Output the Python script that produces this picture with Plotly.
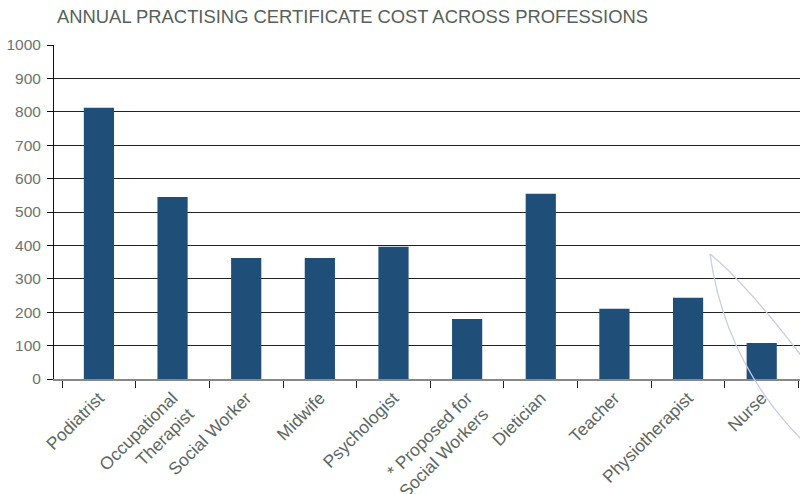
import plotly.graph_objects as go

categories = ["Podiatrist", "Occupational<br>Therapist", "Social Worker", "Midwife",
              "Psychologist", "* Proposed for<br>Social Workers", "Dietician", "Teacher",
              "Physiotherapist", "Nurse"]
costs = [812, 545, 362, 362, 396, 180, 555, 210, 243, 108]
y_ticks = [0, 100, 200, 300, 400, 500, 600, 700, 800, 900, 1000]

BAR = "#1f4e79"
TXT = "#5d6763"
FONT = "Liberation Sans, Arial, sans-serif"

W, H = 800, 494
L, R, T, B = 54, 0, 45, 115
pw, ph = W - L - R, H - T - B


def px(x, y):
    return (x - L) / pw, (H - B - y) / ph


def path(pts):
    (x0, y0), (cx, cy), (x1, y1) = [px(*p) for p in pts]
    return f"M {x0},{y0} Q {cx},{cy} {x1},{y1}"


fig = go.Figure(go.Bar(x=categories, y=costs, marker=dict(color=BAR, line=dict(width=0)),
                       width=0.41))

fig.update_layout(
    width=W, height=H,
    margin=dict(l=L, r=R, t=T, b=B),
    paper_bgcolor="white", plot_bgcolor="white",
    showlegend=False,
    title=dict(text="ANNUAL PRACTISING CERTIFICATE COST ACROSS PROFESSIONS",
               x=57 / W, xanchor="left", y=1 - 17 / H, yanchor="middle",
               font=dict(family=FONT, size=18.4, color="#56605b")),
    xaxis=dict(type="category", range=[-0.61, 9.52], tickson="boundaries",
               automargin=False,
               ticks="outside", ticklen=7, tickcolor="#222", tickwidth=1,
               showline=True, linecolor="#888", linewidth=2, showgrid=False,
               tickangle=-45, tickfont=dict(family=FONT, size=17.5, color=TXT)),
    yaxis=dict(range=[0, 1000], tickvals=y_ticks, ticks="outside", ticklen=6,
               automargin=False,
               tickcolor="#111", showline=True, linecolor="#111", linewidth=1,
               showgrid=True, gridcolor="#222", gridwidth=1, zeroline=False,
               ticklabelstandoff=3,
               tickfont=dict(family=FONT, size=15.5, color="#6b7370")),
    shapes=[
        dict(type="path", xref="paper", yref="paper", layer="above",
             path=path([(710, 254), (745, 282), (806, 362)]),
             line=dict(color="#c9cde3", width=1.3)),
        dict(type="path", xref="paper", yref="paper", layer="above",
             path=path([(710, 254), (725, 362), (802, 440)]),
             line=dict(color="#c9cde3", width=1.3)),
    ],
)

fig.write_html("out.html")
